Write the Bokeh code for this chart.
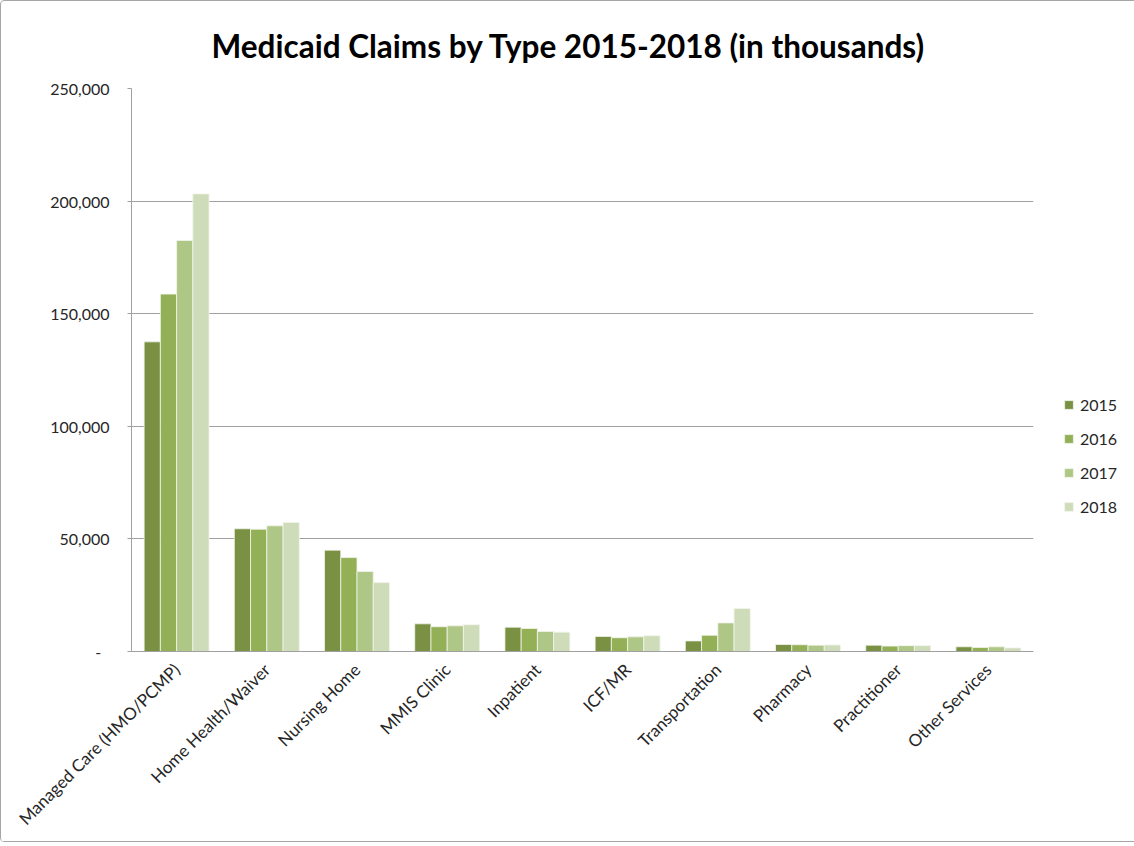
from bokeh.plotting import figure
from bokeh.models import (ColumnDataSource, FactorRange, Range1d, Legend, LegendItem,
                          CustomJSTickFormatter, FixedTicker)
from bokeh.transform import dodge
from bokeh.embed import file_html
from bokeh.resources import INLINE
from math import pi

categories = ["Managed Care (HMO/PCMP)", "Home Health/Waiver", "Nursing Home", "MMIS Clinic",
              "Inpatient", "ICF/MR", "Transportation", "Pharmacy", "Practitioner", "Other Services"]
years = ["2015", "2016", "2017", "2018"]
v2015 = [137500, 54500, 45000, 12300, 10800, 6700, 4700, 3100, 2800, 2100]
v2016 = [158700, 54300, 41700, 11000, 10200, 6100, 7200, 3000, 2400, 1800]
v2017 = [182500, 55800, 35500, 11400, 8900, 6500, 12700, 2800, 2600, 2100]
v2018 = [203200, 57300, 30600, 11900, 8600, 7000, 19100, 2900, 2600, 1600]
colors = ["#7a9144", "#93b056", "#afc786", "#cfdcb9"]
y_ticks = [0, 50000, 100000, 150000, 200000, 250000]

source = ColumnDataSource(dict(cat=categories, y2015=v2015, y2016=v2016, y2017=v2017, y2018=v2018))

FONT = "Lato"

p = figure(x_range=FactorRange(*categories), y_range=Range1d(0, 250000),
           frame_width=902, frame_height=563, output_backend="svg", toolbar_location=None,
           min_border_left=130, min_border_right=96, min_border_top=87, min_border_bottom=190,
           title="Medicaid Claims by Type 2015-2018 (in thousands)")
p.styles = {"border": "1px solid #a6a6a6", "border-radius": "4px"}
p.outline_line_color = None
p.background_fill_color = "white"
p.border_fill_color = "white"

p.title.text_font = FONT
p.title.text_font_style = "bold"
p.title.text_font_size = "31.5px"
p.title.text_color = "black"
p.title.align = "left"
p.title.offset = 80
p.title.standoff = 47

offsets = [-0.27, -0.09, 0.09, 0.27]
renderers = []
for yr, off, col in zip(years, offsets, colors):
    r = p.vbar(x=dodge("cat", off, range=p.x_range), top="y" + yr, width=0.18, source=source,
               fill_color=col, line_color="#f2f5ec", line_width=0.8)
    renderers.append(r)

# axes
p.xgrid.grid_line_color = None
p.ygrid.grid_line_color = "#a0a0a0"
p.ygrid.grid_line_width = 1
p.yaxis.ticker = FixedTicker(ticks=y_ticks)
p.yaxis.formatter = CustomJSTickFormatter(code="return tick == 0 ? '-\u00a0\u00a0' : tick.toLocaleString('en-US');")
p.yaxis.axis_line_color = "#a0a0a0"
p.yaxis.major_tick_line_color = "#a0a0a0"
p.yaxis.major_tick_out = 4
p.yaxis.major_tick_in = 0
p.yaxis.minor_tick_line_color = None
p.yaxis.major_label_text_font = FONT
p.yaxis.major_label_text_font_size = "16px"
p.yaxis.major_label_text_color = "#262626"
p.yaxis.major_label_standoff = 18

p.xaxis.axis_line_color = "#a0a0a0"
p.xaxis.major_tick_line_color = None
p.xaxis.minor_tick_line_color = None
p.xaxis.major_label_orientation = pi / 4
p.xaxis.major_label_text_font = FONT
p.xaxis.major_label_text_font_size = "17px"
p.xaxis.major_label_text_color = "#262626"
p.xaxis.major_label_standoff = 9

legend = Legend(items=[LegendItem(label=y, renderers=[r]) for y, r in zip(years, renderers)],
                location=(30, 135), border_line_color=None, background_fill_alpha=0,
                glyph_width=11, glyph_height=11, label_height=20, spacing=14, padding=0,
                margin=0, label_text_font=FONT, label_text_font_size="16px",
                label_text_color="#262626", label_standoff=6)
p.add_layout(legend, "right")

open("out.html", "w").write(file_html(p, INLINE))
